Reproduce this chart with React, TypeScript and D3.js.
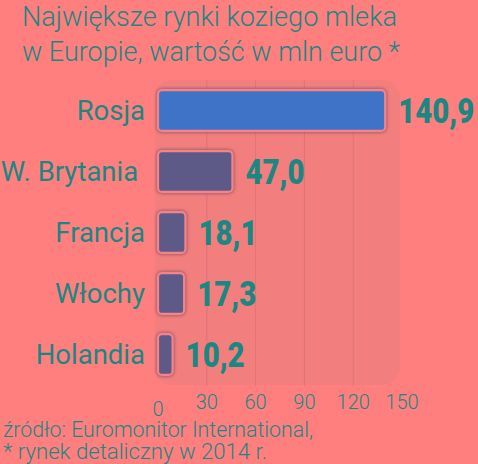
import React from "react";
import * as d3 from "d3";

const categories = ["Rosja", "W. Brytania\u00a0", "Francja", "Włochy", "Holandia"];
const values = [140.9, 47.0, 18.1, 17.3, 10.2];
const valueLabels = ["140,9", "47,0", "18,1", "17,3", "10,2"];
const ticks = [0, 30, 60, 90, 120, 150];
const titleLines = ["Największe rynki koziego mleka", "w Europie, wartość w mln euro *"];
const noteLines = ["źródło: Euromonitor International,", "* rynek detaliczny w 2014 r."];

const W = 478;
const H = 464;
const BG = "#ff7f7f";
const TEAL = "#1a8782";

export default function App() {
  const x = d3.scaleLinear().domain([0, 150]).range([158, 402]);
  const y = d3.scaleBand<string>().domain(categories).range([80, 385]).paddingInner(0.33).paddingOuter(0.165);
  const bw = y.bandwidth();
  return (
    <svg width={W} height={H} style={{ position: "absolute", left: 0, top: 0, display: "block" }}>
      <defs>
        <filter id="glow" x="-20%" y="-40%" width="140%" height="180%">
          <feGaussianBlur stdDeviation="1.6" />
        </filter>
      </defs>
      <rect x={0} y={0} width={W} height={H} fill={BG} />
      {titleLines.map((t, i) => (
        <text key={i} x={22} y={26 + i * 35} fontFamily="Roboto" fontWeight={300} fontSize={28} fill={TEAL}
          textLength={i === 0 ? 375 : 378} lengthAdjust="spacingAndGlyphs">{t}</text>
      ))}
      <rect x={155} y={80} width={245} height={305} rx={18} fill="#f37e7e" />
      {ticks.slice(1, 5).map((t) => (
        <line key={t} x1={x(t)} x2={x(t)} y1={80} y2={386} stroke="#dd7478" strokeWidth={1} />
      ))}
      {categories.map((c, i) => {
        const y0 = y(c)!;
        const x0 = x(0);
        const x1 = x(values[i]);
        return (
          <g key={c}>
            <rect x={x0 - 2} y={y0 - 2} width={x1 - x0 + 2} height={bw + 4} rx={6} fill="#8a5560" opacity={0.75} filter="url(#glow)" />
            <rect x={x0} y={y0} width={x1 - x0 - 2} height={bw} rx={4}
              fill={i === 0 ? "#3f73c8" : "#5e5a88"} stroke="#f58389" strokeWidth={2.2} />
          </g>
        );
      })}
      {categories.map((c) => (
        <text key={c} x={145} y={y(c)! + bw / 2 + 9.5} textAnchor="end" fontFamily="Roboto" fontWeight={400} fontSize={27.5} fill={TEAL}
          xmlSpace="preserve">{c}</text>
      ))}
      {categories.map((c, i) => (
        <text key={c} transform={`translate(${x(values[i]) + 11},${y(c)! + bw / 2 + 12.5}) scale(0.84,1)`}
          fontFamily="Roboto" fontWeight={900} fontSize={35} fill={TEAL}>{valueLabels[i]}</text>
      ))}
      {ticks.map((t, i) => (
        <text key={t} x={x(t)} y={i === 0 ? 416 : 409} textAnchor="middle" fontFamily="Roboto" fontWeight={300} fontSize={20} fill={TEAL}>{t}</text>
      ))}
      {noteLines.map((t, i) => (
        <text key={i} x={3} y={437 + i * 22} fontFamily="Roboto" fontWeight={300} fontSize={21.5} fill={TEAL}
          textLength={i === 0 ? 310 : 264} lengthAdjust="spacingAndGlyphs">{t}</text>
      ))}
    </svg>
  );
}
